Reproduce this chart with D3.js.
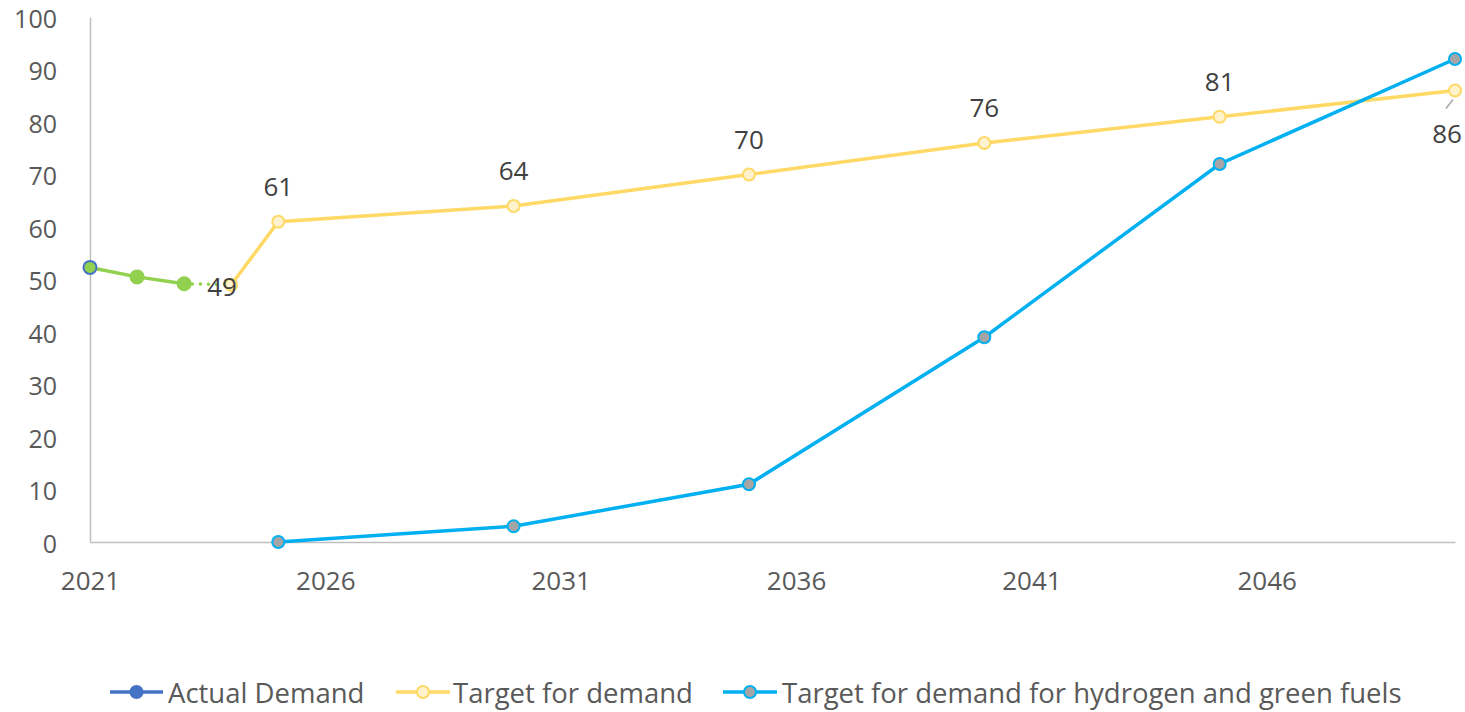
<!DOCTYPE html>
<html><head><meta charset="utf-8">
<script src="https://cdn.jsdelivr.net/npm/d3@7/dist/d3.min.js"></script>
<style>body{margin:0;background:#fff;} svg{display:block;}</style>
</head><body><svg id="c" width="1465" height="712"></svg>
<script>
const years = d3.range(2021, 2051);
const tickYears = [2021, 2026, 2031, 2036, 2041, 2046];
const yTicks = [0,10,20,30,40,50,60,70,80,90,100];
const actualYears = [2021, 2022, 2023];
const actualValues = [52.3, 50.5, 49.2];
const actualEstYears = [2023, 2024];
const actualEstValues = [49.2, 49];
const targetYears = [2024, 2025, 2030, 2035, 2040, 2045, 2050];
const targetValues = [49, 61, 64, 70, 76, 81, 86];
const h2Years = [2025, 2030, 2035, 2040, 2045, 2050];
const h2Values = [0, 3, 11, 39, 72, 92];
const legendNames = ["Actual Demand", "Target for demand", "Target for demand for hydrogen and green fuels"];

const svg = d3.select("#c");
const font = "'Open Sans', sans-serif";
const x = d3.scalePoint().domain(years).range([90, 1455]);
const y = d3.scaleLinear().domain([0, 100]).range([542, 17]);

const gx = svg.append("g").attr("transform", "translate(0,542)")
  .call(d3.axisBottom(x).tickValues(tickYears).tickSize(0).tickPadding(30));
gx.select(".domain").attr("stroke", "#bfbfbf").attr("stroke-width", 1.5);
gx.selectAll("text").attr("font-family", font).attr("font-size", 26).attr("fill", "#595959");

const gy = svg.append("g").attr("transform", "translate(90,0)")
  .call(d3.axisLeft(y).tickValues(yTicks).tickSize(0).tickPadding(33));
gy.select(".domain").attr("stroke", "#bfbfbf").attr("stroke-width", 1.5);
gy.selectAll("text").attr("font-family", font).attr("font-size", 25).attr("fill", "#595959")
  .attr("dy", "0.4em");

const line = d3.line().x(d => x(d[0])).y(d => y(d[1]));
const zip = (a, b) => a.map((v, i) => [v, b[i]]);

const tData = zip(targetYears, targetValues);
svg.append("path").attr("d", line(tData)).attr("fill", "none").attr("stroke", "#ffd966").attr("stroke-width", 3.5);
const hData = zip(h2Years, h2Values);
svg.append("path").attr("d", line(hData)).attr("fill", "none").attr("stroke", "#00b0f0").attr("stroke-width", 3.5);
const aData = zip(actualYears, actualValues);
svg.append("path").attr("d", line(aData)).attr("fill", "none").attr("stroke", "#92d050").attr("stroke-width", 3.5);
svg.append("path").attr("d", line(zip(actualEstYears, actualEstValues))).attr("fill", "none")
  .attr("stroke", "#92d050").attr("stroke-width", 3.5).attr("stroke-dasharray", "0.1 8").attr("stroke-linecap", "round");

svg.selectAll(".tm").data(tData).join("circle").attr("cx", d => x(d[0])).attr("cy", d => y(d[1])).attr("r", 6)
  .attr("fill", "#fff2cc").attr("stroke", "#ffd966").attr("stroke-width", 2);
svg.selectAll(".hm").data(hData).join("circle").attr("cx", d => x(d[0])).attr("cy", d => y(d[1])).attr("r", 6)
  .attr("fill", "#a5a5a5").attr("stroke", "#00b0f0").attr("stroke-width", 2);
svg.selectAll(".am").data(aData).join("circle").attr("cx", d => x(d[0])).attr("cy", d => y(d[1])).attr("r", 6.5)
  .attr("fill", "#92d050").attr("stroke", (d, i) => i === 0 ? "#4472c4" : "#92d050").attr("stroke-width", 2);

const lbl = svg.append("g").attr("font-family", font).attr("font-size", 26).attr("fill", "#404040");
tData.forEach((d, i) => {
  if (i === 0) {
    lbl.append("text").attr("x", x(d[0]) - 24).attr("y", y(d[1]) + 11).text(d[1]);
  } else if (i === tData.length - 1) {
    svg.append("line").attr("x1", x(d[0]) - 2).attr("y1", y(d[1]) + 9).attr("x2", x(d[0]) - 9).attr("y2", y(d[1]) + 18)
      .attr("stroke", "#a6a6a6").attr("stroke-width", 1.5);
    lbl.append("text").attr("x", x(d[0]) - 8).attr("y", y(d[1]) + 52).attr("text-anchor", "middle").text(d[1]);
  } else {
    lbl.append("text").attr("x", x(d[0])).attr("y", y(d[1]) - 26).attr("text-anchor", "middle").text(d[1]);
  }
});

const leg = svg.append("g").attr("font-family", font).attr("font-size", 27.5).attr("fill", "#595959");
const legItems = [
  {x1: 110, x2: 163, stroke: "#4472c4", fill: "#4472c4", mstroke: "#4472c4", tx: 168},
  {x1: 396, x2: 450, stroke: "#ffd966", fill: "#fff2cc", mstroke: "#ffd966", tx: 453},
  {x1: 723, x2: 777, stroke: "#00b0f0", fill: "#a5a5a5", mstroke: "#00b0f0", tx: 782}
];
legItems.forEach((it, i) => {
  leg.append("line").attr("x1", it.x1).attr("x2", it.x2).attr("y1", 692).attr("y2", 692).attr("stroke", it.stroke).attr("stroke-width", 3.5);
  leg.append("circle").attr("cx", (it.x1 + it.x2) / 2).attr("cy", 692).attr("r", 6).attr("fill", it.fill).attr("stroke", it.mstroke).attr("stroke-width", 2);
  leg.append("text").attr("x", it.tx).attr("y", 703).text(legendNames[i]);
});
</script></body></html>
